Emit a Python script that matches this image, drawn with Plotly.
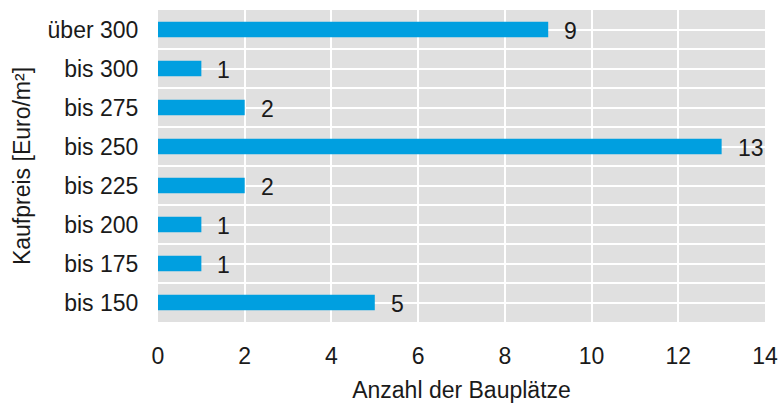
import plotly.graph_objects as go

categories = ["bis 150", "bis 175", "bis 200", "bis 225", "bis 250", "bis 275", "bis 300", "über 300"]
counts = [5, 1, 1, 2, 13, 2, 1, 9]
x_ticks = [0, 2, 4, 6, 8, 10, 12, 14]

bar_color = "#009FE0"
font_family = "Liberation Sans, Arial, sans-serif"
txt_color = "#1a1a1a"
fs = 23

pos = list(range(len(categories)))

fig = go.Figure()
fig.add_trace(go.Bar(
    x=counts, y=pos, orientation="h", width=0.4,
    marker=dict(color=bar_color, line=dict(width=0)),
    hoverinfo="skip",
))

for p, v in zip(pos, counts):
    fig.add_annotation(x=v, y=p, text=str(v), showarrow=False,
                       xanchor="left", xshift=14, yshift=-1,
                       font=dict(size=fs, color=txt_color, family=font_family))

fig.update_layout(
    width=779, height=403,
    margin=dict(l=158, r=14, t=10, b=81),
    paper_bgcolor="white",
    plot_bgcolor="#E0E0E0",
    showlegend=False,
    font=dict(family=font_family, size=fs, color=txt_color),
    xaxis=dict(
        range=[0, 14], tickvals=x_ticks, ticktext=[str(t) for t in x_ticks],
        showgrid=True, gridcolor="white", gridwidth=1.5, zeroline=False,
        ticks="outside", ticklen=13, tickcolor="rgba(0,0,0,0)",
        tickfont=dict(size=fs, color=txt_color),
        title=dict(text="Anzahl der Bauplätze", font=dict(size=fs, color=txt_color), standoff=15),
        showline=False, automargin=False,
    ),
    yaxis=dict(
        range=[-0.5, 7.5], tickvals=pos, ticktext=categories,
        showgrid=True, gridcolor="white", gridwidth=1.5, zeroline=False,
        minor=dict(dtick=0.5, tick0=-0.5, showgrid=True, gridcolor="white", gridwidth=1.5, ticks=""),
        ticks="outside", ticklen=14, tickcolor="rgba(0,0,0,0)",
        tickfont=dict(size=fs, color=txt_color),
        title=dict(text="Kaufpreis [Euro/m²]", font=dict(size=fs, color=txt_color), standoff=10),
        showline=False, automargin=False,
    ),
)

fig.write_html("out.html", config={"displayModeBar": False},
               post_script="document.body.style.margin='0';document.body.style.overflow='hidden';")
